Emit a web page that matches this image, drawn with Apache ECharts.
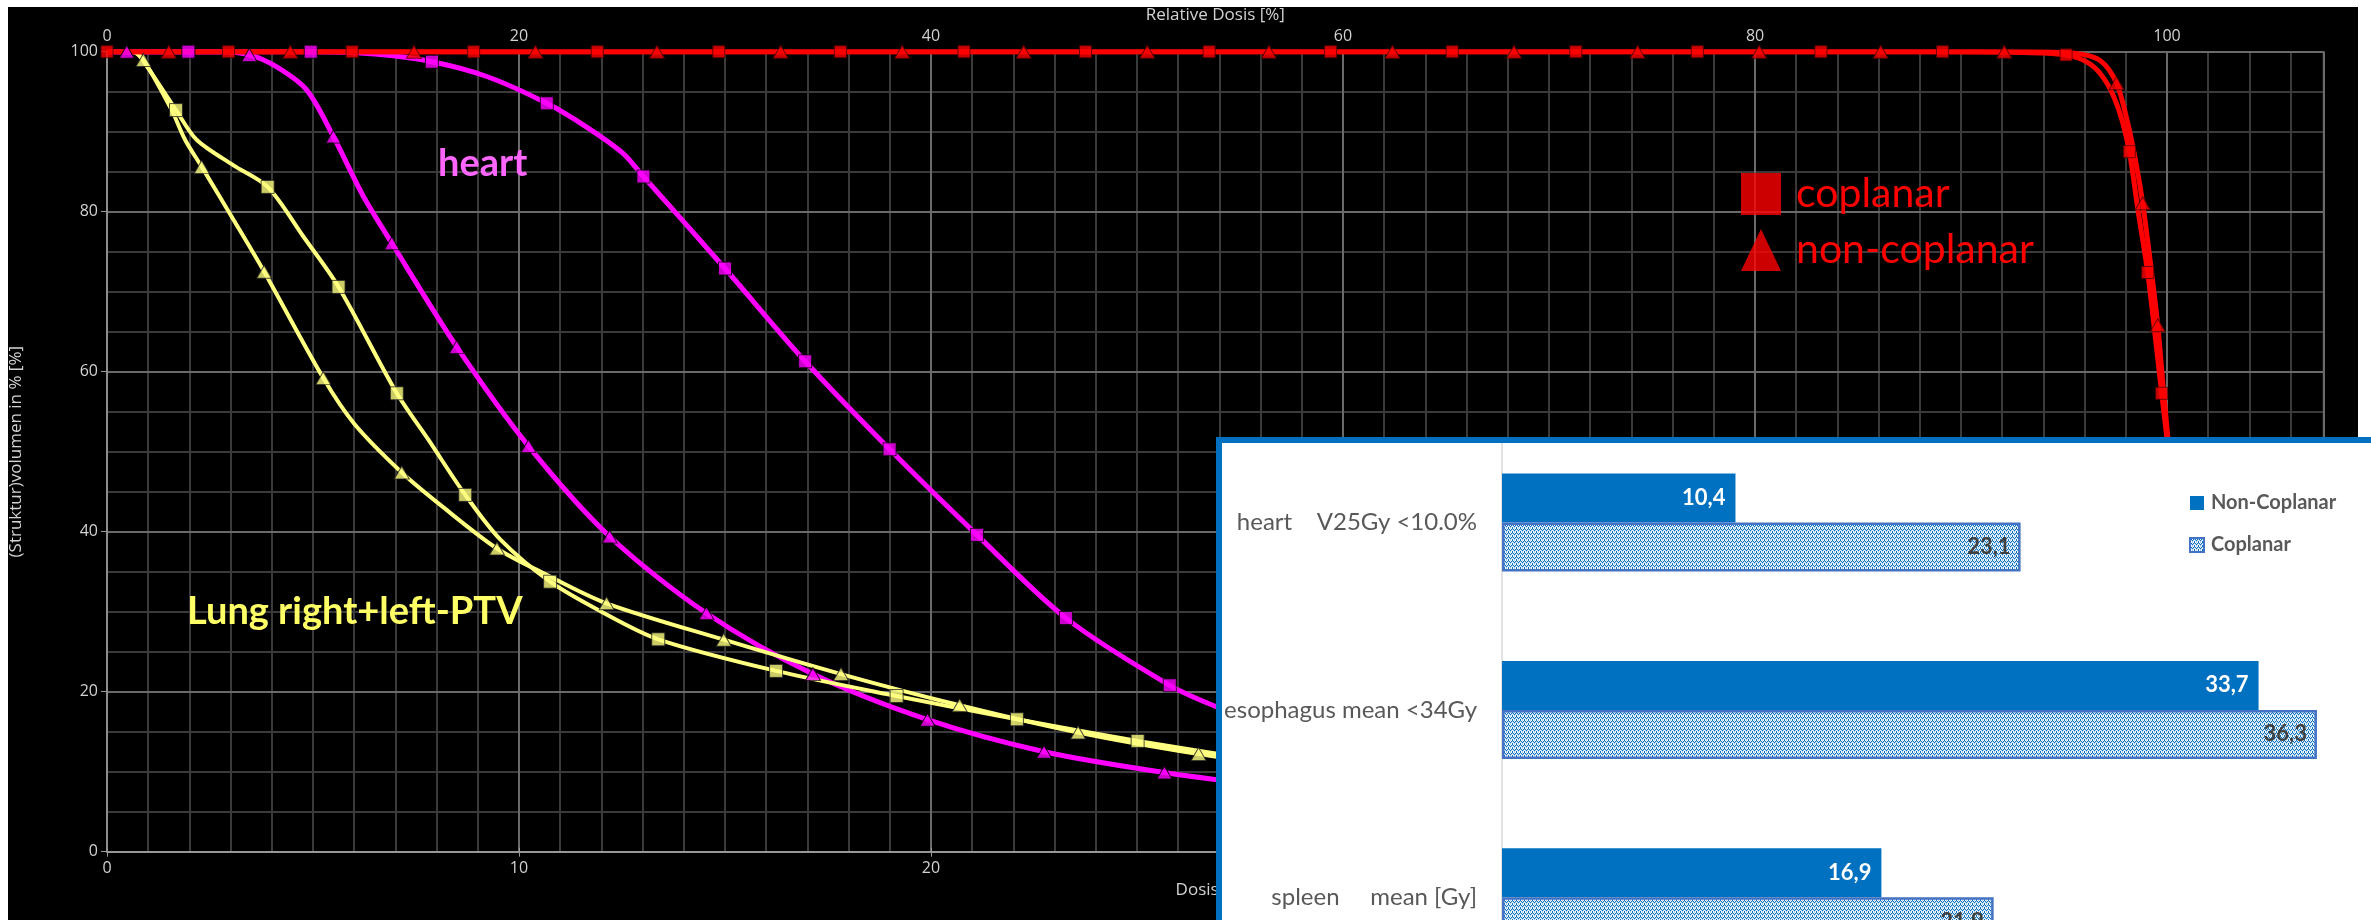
<!DOCTYPE html>
<html><head><meta charset="utf-8">
<script src="https://cdn.jsdelivr.net/npm/echarts@6/dist/echarts.min.js"></script>
<style>
html,body{margin:0;padding:0;background:#fff;width:2371px;height:920px;overflow:hidden}
#bg{position:absolute;left:8px;top:7px;width:2350px;height:913px;background:#000}
#chart{position:absolute;left:0;top:0;width:2371px;height:920px}
</style></head><body><div id="bg"></div><div id="chart"></div>
<script>
// ---------- DVH data: [relative dose %, volume %] ----------
const ptvCoplanarCurve = [[0,100],[89,100],[93,99.9],[95.1,99.6],[96.3,98.4],[97.1,96.0],[97.7,92.4],[98.17,87.5],[98.6,80.0],[99.06,72.4],[99.4,65.0],[99.74,57.3],[100.0,51.5],[100.4,42],[101,28],[101.8,12],[103,3],[105,0.5],[107.6,0]];
const ptvCoplanarMarks = [[0,100],[5.9,100],[11.9,100],[17.8,100],[23.8,100],[29.7,100],[35.6,100],[41.6,100],[47.5,100],[53.5,100],[59.4,100],[65.3,100],[71.3,100],[77.2,100],[83.2,100],[89.1,100],[95.1,99.6],[98.17,87.5],[99.06,72.4],[99.74,57.3]];
const ptvNonCoplanarCurve = [[0,100],[93,100],[95.5,99.8],[96.75,98.9],[97.55,96.05],[98.1,91.0],[98.5,86.0],[98.82,81.05],[99.2,73.5],[99.55,65.8],[99.8,58.5],[100.05,51.5],[100.4,42],[101,28],[101.8,12],[103,3],[105,0.5],[107.6,0]];
const ptvNonCoplanarMarks = [[3.0,100],[8.9,100],[14.9,100],[20.8,100],[26.7,100],[32.7,100],[38.6,100],[44.5,100],[50.5,100],[56.4,100],[62.4,100],[68.3,100],[74.3,100],[80.2,100],[86.1,100],[92.1,100],[97.55,96.05],[98.82,81.05],[99.55,65.8]];

const heartCoplanarCurve = [[0,100],[9.9,100],[13.0,99.7],[15.77,98.75],[18.44,96.9],[21.35,93.55],[23.3,90.55],[25.05,87.3],[26.04,84.4],[30.0,72.9],[33.89,61.3],[37.99,50.3],[42.23,39.6],[46.55,29.2],[51.59,20.8],[53.87,18.1],[57,15]];
const heartCoplanarMarks = [[3.95,100],[9.89,100],[15.77,98.75],[21.35,93.55],[26.04,84.4],[30.0,72.9],[33.89,61.3],[37.99,50.3],[42.23,39.6],[46.55,29.2],[51.59,20.8]];
const heartNonCoplanarCurve = [[0,100],[5.5,100],[6.91,99.6],[8.24,98.1],[9.70,95.2],[10.99,89.4],[12.45,81.9],[13.83,76.05],[16.98,63.1],[20.46,50.7],[24.4,39.4],[29.1,29.8],[34.27,22.2],[39.83,16.5],[45.49,12.5],[51.33,9.9],[57,8.0]];
const heartNonCoplanarMarks = [[0.96,100],[6.91,99.6],[10.99,89.4],[13.83,76.05],[16.98,63.1],[20.46,50.7],[24.4,39.4],[29.1,29.8],[34.27,22.2],[39.83,16.5],[45.49,12.5],[51.33,9.9]];

const lungCoplanarCurve = [[0,100],[1.3,100],[1.9,98.3],[3.35,92.7],[4.35,89.0],[6.14,85.8],[7.80,83.1],[9.53,76.9],[11.24,70.6],[14.07,57.3],[15.6,51.5],[17.39,44.6],[19.1,39.0],[21.51,33.75],[24.0,30.0],[26.76,26.55],[32.48,22.6],[38.33,19.46],[44.17,16.55],[50.03,13.84],[57,11.0]];
const lungCoplanarMarks = [[3.35,92.7],[7.80,83.1],[11.24,70.6],[14.07,57.3],[17.39,44.6],[21.51,33.75],[26.76,26.55],[32.48,22.6],[38.33,19.46],[44.17,16.55],[50.03,13.84]];
const lungNonCoplanarCurve = [[0,100],[1.2,100],[1.77,98.96],[3.14,92.7],[3.79,89.0],[4.60,85.6],[6.14,79.0],[7.63,72.5],[10.50,59.2],[12.0,53.5],[14.31,47.4],[16.3,43.1],[18.93,37.9],[21.2,34.8],[24.25,31.05],[29.94,26.5],[35.63,22.2],[41.39,18.3],[47.14,14.9],[52.99,12.2],[57,10.8]];
const lungNonCoplanarMarks = [[1.77,98.96],[4.60,85.6],[7.63,72.5],[10.50,59.2],[14.31,47.4],[18.93,37.9],[24.25,31.05],[29.94,26.5],[35.63,22.2],[41.39,18.3],[47.14,14.9],[52.99,12.2]];

// axis ranges
const relDoseMax = 107.6;      // top axis, Relative Dosis [%]
const absDoseMax = 53.8;       // bottom axis, Dosis [Gy]
const relDoseInterval = 20;
const absDoseInterval = 10;
const volumeInterval = 20;

// ---------- bar chart data ----------
const barCategories = ['heart    V25Gy <10.0%', 'esophagus mean <34Gy', 'spleen     mean [Gy]'];
const nonCoplanarValues = [10.4, 33.7, 16.9];
const coplanarValues = [23.1, 36.3, 21.9];

// ---------- layout ----------
const dvhGrid = {left:107, top:51.7, width:2216.6, height:800};
const barGridLeft = 1502;

function makePattern(){
  const c = document.createElement('canvas'); c.width = 4; c.height = 4;
  const ctx = c.getContext('2d');
  const D = '#0070C0', W = '#ffffff', L = '#a8cbea';
  const m = [[D,W,L,W],[L,D,W,D],[W,L,D,L],[D,W,L,W]];
  for (let y=0;y<4;y++) for (let x=0;x<4;x++){ ctx.fillStyle = m[y][x]; ctx.fillRect(x,y,1,1); }
  return c;
}
const pattern = {image: makePattern(), repeat: 'repeat'};

const axisTextColor = '#d2d2d2';
const axisFont = 'Open Sans';

function curve(name, data, color, width){
  return {type:'line', name, data, xAxisIndex:0, yAxisIndex:0, symbol:'none', showSymbol:false,
    smooth:0.3, lineStyle:{color, width}, z:2, silent:true, animation:false};
}
function marks(name, data, color, symbol, size, border){
  return {type:'scatter', name, data, xAxisIndex:0, yAxisIndex:0, symbol, symbolSize:size,
    itemStyle:{color, borderColor:border, borderWidth:1}, z:4, silent:true, animation:false};
}

const chart = echarts.init(document.getElementById('chart'), null, {renderer:'canvas'});
chart.setOption({
  animation:false,
  backgroundColor:'transparent',
  grid:[
    Object.assign({show:true, borderColor:'#8c8c8c', borderWidth:1.5, backgroundColor:'transparent', outerBoundsMode:'none'}, dvhGrid),
    {left:barGridLeft, top:428.9, width:898, height:562, outerBoundsMode:'none'}
  ],
  xAxis:[
    {type:'value', gridIndex:0, position:'top', min:0, max:relDoseMax, interval:relDoseInterval,
     name:'Relative Dosis [%]', nameLocation:'middle', nameGap:26,
     nameTextStyle:{color:axisTextColor, fontSize:17, fontFamily:axisFont},
     axisLine:{show:true, lineStyle:{color:'#9a9a9a', width:1.5}},
     axisTick:{show:true, length:4, lineStyle:{color:'#9a9a9a'}},
     axisLabel:{color:axisTextColor, fontSize:16, fontFamily:axisFont, margin:7, showMaxLabel:false},
     splitLine:{show:true, lineStyle:{color:'#6a6a6a', width:2}}, z:1},
    {type:'value', gridIndex:0, position:'bottom', min:0, max:absDoseMax, interval:absDoseInterval,
     name:'Dosis [Gy]', nameLocation:'middle', nameGap:30,
     nameTextStyle:{color:axisTextColor, fontSize:17, fontFamily:axisFont},
     axisLine:{show:true, lineStyle:{color:'#9a9a9a', width:1.5}},
     axisTick:{show:true, length:5, lineStyle:{color:'#9a9a9a'}},
     axisLabel:{color:axisTextColor, fontSize:16, fontFamily:axisFont, margin:9, showMaxLabel:false},
     splitLine:{show:false}, z:1},
    {type:'value', gridIndex:0, position:'bottom', min:0, max:relDoseMax, interval:2,
     axisLine:{show:false}, axisTick:{show:false}, axisLabel:{show:false},
     splitLine:{show:true, lineStyle:{color:'#3a3a3a', width:2}}, z:0},
    {type:'value', gridIndex:1, min:0, max:40, show:false}
  ],
  yAxis:[
    {type:'value', gridIndex:0, min:0, max:100, interval:volumeInterval,
     name:'(Struktur)volumen in % [%]', nameLocation:'middle', nameGap:82,
     nameTextStyle:{color:axisTextColor, fontSize:17, fontFamily:axisFont},
     axisLine:{show:true, lineStyle:{color:'#9a9a9a', width:1.5}},
     axisTick:{show:true, length:6, lineStyle:{color:'#9a9a9a'}},
     axisLabel:{color:axisTextColor, fontSize:16, fontFamily:axisFont, margin:9},
     splitLine:{show:true, lineStyle:{color:'#6a6a6a', width:2}}, z:1},
    {type:'value', gridIndex:0, min:0, max:100, interval:5, position:'right',
     axisLine:{show:false}, axisTick:{show:false}, axisLabel:{show:false},
     splitLine:{show:true, lineStyle:{color:'#3a3a3a', width:2}}, z:0},
    {type:'category', gridIndex:1, data:barCategories, inverse:true,
     axisLine:{show:false}, axisTick:{show:false},
     axisLabel:{color:'#595959', fontSize:24, fontFamily:'Lato', margin:25}, z:110}
  ],
  legend:[
    {data:[{name:'coplanar', icon:'rect'}, {name:'non-coplanar', icon:'triangle'}],
     orient:'vertical', left:1736, top:168, itemWidth:40, itemHeight:42, itemGap:14,
     itemStyle:{borderWidth:0},
     textStyle:{color:'#ff0000', fontSize:41, fontFamily:'Lato', padding:[0,0,0,10]},
     selectedMode:false, z:50},
    {data:[{name:'Non-Coplanar', icon:'rect'}, {name:'Coplanar', icon:'rect'}],
     orient:'vertical', left:2184, top:488, itemWidth:14, itemHeight:14, itemGap:22,
     textStyle:{color:'#595959', fontSize:20, fontWeight:'bold', fontFamily:'Lato', padding:[0,0,0,2]},
     selectedMode:false, z:110}
  ],
  graphic:[
    {type:'rect', id:'panel', shape:{x:1219, y:440, width:1250, height:600},
     style:{fill:'#ffffff', stroke:'#0070C0', lineWidth:6}, z:100, silent:true},
    {type:'line', id:'baseline', shape:{x1:barGridLeft, y1:443, x2:barGridLeft, y2:920},
     style:{stroke:'#d9d9d9', lineWidth:1.5}, z:105, silent:true},
    {type:'text', id:'heartLbl', x:438, y:164,
     style:{text:'heart', fill:'#ff66ff', font:'bold 38px Lato', align:'left', verticalAlign:'middle', textAlign:'left', textVerticalAlign:'middle'}, z:10},
    {type:'text', id:'lungLbl', x:187, y:612,
     style:{text:'Lung right+left-PTV', fill:'#ffff66', font:'bold 38px Lato', align:'left', verticalAlign:'middle', textAlign:'left', textVerticalAlign:'middle'}, z:10}
  ],
  series:[
    curve('heart cp line', heartCoplanarCurve, '#ff00ff', 5),
    curve('heart ncp line', heartNonCoplanarCurve, '#ff00ff', 5),
    curve('lung cp line', lungCoplanarCurve, '#ffff80', 4),
    curve('lung ncp line', lungNonCoplanarCurve, '#ffff80', 4),
    curve('ptv ncp line', ptvNonCoplanarCurve, '#ff0000', 5),
    curve('ptv cp line', ptvCoplanarCurve, '#ff0000', 5),
    marks('heart cp marks', heartCoplanarMarks, '#ff00ff', 'rect', 13, '#000'),
    marks('heart ncp marks', heartNonCoplanarMarks, '#ff00ff', 'triangle', [15,13], '#000'),
    marks('lung cp marks', lungCoplanarMarks, '#ffff80', 'rect', 13, '#222'),
    marks('lung ncp marks', lungNonCoplanarMarks, '#ffff80', 'triangle', [15,13], '#222'),
    marks('coplanar', ptvCoplanarMarks, '#ff0000', 'rect', 12, '#500000'),
    marks('non-coplanar', ptvNonCoplanarMarks, '#ff0000', 'triangle', [15,13], '#500000'),
    {type:'bar', name:'Non-Coplanar', xAxisIndex:3, yAxisIndex:2, data:nonCoplanarValues,
     barWidth:49, barGap:'0%', itemStyle:{color:'#0070C0'},
     label:{show:true, position:'insideRight', distance:10, color:'#ffffff', fontSize:22, fontWeight:'bold', fontFamily:'Lato',
       formatter:p=>p.value.toFixed(1).replace('.', ',')},
     z:110, animation:false},
    {type:'bar', name:'Coplanar', xAxisIndex:3, yAxisIndex:2, data:coplanarValues,
     barWidth:49, barGap:'0%', itemStyle:{color:pattern, borderColor:'#4472C4', borderWidth:2.5},
     label:{show:true, position:'insideRight', distance:10, color:'#404040', fontSize:22, fontWeight:'bold', fontFamily:'Lato',
       formatter:p=>p.value.toFixed(1).replace('.', ',')},
     z:110, animation:false}
  ]
});
</script></body></html>
